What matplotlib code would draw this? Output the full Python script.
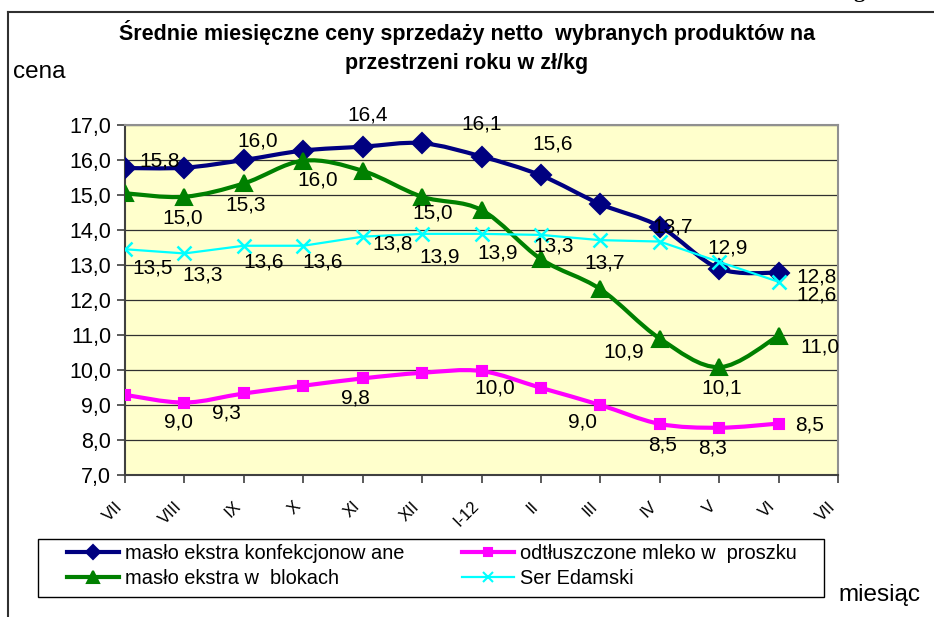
import matplotlib
matplotlib.use("Agg")
import matplotlib.pyplot as plt
import matplotlib.transforms as mtransforms
from matplotlib.path import Path
from matplotlib.patches import PathPatch, Rectangle
from matplotlib.lines import Line2D

plt.rcParams['font.family'] = ['Liberation Sans', 'DejaVu Sans']

# Dane
months = ["VII", "VIII", "IX", "X", "XI", "XII", "I-12", "II", "III", "IV", "V", "VI", "VII"]
maslo_konf = [15.77, 15.78, 16.0, 16.27, 16.38, 16.48, 16.1, 15.56, 14.74, 14.1, 12.9, 12.78]
maslo_blok = [15.05, 14.95, 15.33, 15.98, 15.69, 14.95, 14.57, 13.17, 12.31, 10.9, 10.08, 10.98]
mleko = [9.29, 9.07, 9.33, 9.55, 9.76, 9.92, 9.97, 9.49, 9.0, 8.46, 8.35, 8.47]
ser = [13.45, 13.33, 13.55, 13.55, 13.81, 13.89, 13.89, 13.86, 13.71, 13.67, 13.09, 12.52]

names = ["masło ekstra konfekcjonow ane", "masło ekstra w  blokach",
         "odtłuszczone mleko w  proszku", "Ser Edamski"]

# etykiety danych: indeks punktu -> tekst
labels_konf = {1: "15,8", 2: "16,0", 4: "16,4", 6: "16,1", 7: "15,6", 10: "12,9", 11: "12,8"}
labels_blok = {1: "15,0", 2: "15,3", 3: "16,0", 5: "15,0", 7: "13,3", 9: "10,9", 10: "10,1", 11: "11,0"}
labels_mleko = {1: "9,0", 2: "9,3", 4: "9,8", 6: "10,0", 8: "9,0", 9: "8,5", 10: "8,3", 11: "8,5"}
labels_ser = {0: "13,5", 1: "13,3", 2: "13,6", 3: "13,6", 4: "13,8", 5: "13,9", 6: "13,9",
              8: "13,7", 9: "13,7", 11: "12,6"}

# przesunięcia etykiet w pikselach
off_konf = {1: (-25, 7), 2: (14, 19), 4: (5, 32), 6: (0, 33), 7: (12, 31), 10: (8, 21), 11: (38, -4)}
off_blok = {1: (-2, -21), 2: (2, -22), 3: (14, -19), 5: (11, -16), 7: (13, 13), 9: (-36, -14),
            10: (3, -21), 11: (41, -11)}
off_mleko = {1: (-6, -19), 2: (-17, -20), 4: (-7, -20), 6: (13, -17), 8: (-18, -17), 9: (3, -21),
             10: (-7, -20), 11: (31, -1)}
off_ser = {0: (28, -19), 1: (18, -22), 2: (20, -16), 3: (19, -16), 4: (30, -7), 5: (18, -23),
           6: (16, -19), 8: (4, -23), 9: (13, 15), 11: (38, -13)}

W, H = 934, 617
fig = plt.figure(figsize=(W / 100, H / 100), dpi=100)
ax = fig.add_axes([125 / W, 1 - 475 / H, (838 - 125) / W, (475 - 125) / H])
ax.set_facecolor("#FFFFCC")


def smooth_line(ax, xs, ys, color, lw):
    # krzywe Beziera jak wygładzona linia w Excelu
    verts = [(xs[0], ys[0])]
    codes = [Path.MOVETO]
    n = len(xs)
    for i in range(n - 1):
        x0, y0 = xs[max(i - 1, 0)], ys[max(i - 1, 0)]
        x1, y1 = xs[i], ys[i]
        x2, y2 = xs[i + 1], ys[i + 1]
        x3, y3 = xs[min(i + 2, n - 1)], ys[min(i + 2, n - 1)]
        c1 = (x1 + (x2 - x0) / 6, y1 + (y2 - y0) / 6)
        c2 = (x2 - (x3 - x1) / 6, y2 - (y3 - y1) / 6)
        verts += [c1, c2, (x2, y2)]
        codes += [Path.CURVE4] * 3
    ax.add_patch(PathPatch(Path(verts, codes), fill=False, edgecolor=color, lw=lw,
                           capstyle="round", joinstyle="round", zorder=3))


xs = list(range(len(maslo_konf)))
series = [
    (maslo_konf, "#000080", "D", 10, 3.0, True, labels_konf, off_konf),
    (maslo_blok, "#008000", "^", 11, 3.0, True, labels_blok, off_blok),
    (mleko, "#FF00FF", "s", 7, 3.0, True, labels_mleko, off_mleko),
    (ser, "#00FFFF", "x", 10, 1.6, False, labels_ser, off_ser),
]

handles = []
for (vals, col, mk, ms, lw, smooth, labs, offs), name in zip(series, names):
    if smooth:
        smooth_line(ax, xs, vals, col, lw)
        ax.plot(xs, vals, ls="none", marker=mk, ms=ms, color=col, mew=1.5, zorder=4)
    else:
        ax.plot(xs, vals, color=col, lw=lw, marker=mk, ms=ms, mew=1.8, zorder=4)
    for i, txt in labs.items():
        ax.annotate(txt, (xs[i], vals[i]), xytext=offs[i], textcoords="offset pixels",
                    ha="center", va="center", fontsize=15, color="black", zorder=6,
                    annotation_clip=False)
    handles.append(Line2D([], [], color=col, lw=lw, marker=mk, ms=ms * 0.75, mew=1.5, label=name))

ax.set_xlim(0, 12)
ax.set_ylim(7, 17)
ax.set_yticks(range(7, 18))
ax.set_yticklabels([f"{v},0" for v in range(7, 18)], fontsize=15.5)
ax.set_xticks(range(13))
ax.set_xticklabels(months, fontsize=12, rotation=45, ha="right")
shift = mtransforms.ScaledTranslation(-8 / 100, 0, fig.dpi_scale_trans)
for lab in ax.get_xticklabels():
    lab.set_transform(lab.get_transform() + shift)
ax.tick_params(axis="both", direction="out", length=6, width=1.2, color="#404040")
ax.tick_params(axis="x", pad=11)
ax.tick_params(axis="y", pad=4)
ax.grid(axis="y", color="#303030", lw=0.9)
ax.set_axisbelow(True)
for s in ["top", "right"]:
    ax.spines[s].set_color("#909090")
    ax.spines[s].set_linewidth(1.5)
for s in ["left", "bottom"]:
    ax.spines[s].set_color("#404040")
    ax.spines[s].set_linewidth(1.5)

# legenda z osobną ramką
fig.add_artist(Rectangle((38 / W, 1 - 597 / H), (824 - 38) / W, (597 - 539) / H,
                         transform=fig.transFigure, fill=False, edgecolor="black", lw=1.0))
leg = fig.legend(handles=handles, ncol=2, loc="upper left",
                 bbox_to_anchor=(62 / W, 1 - 539 / H),
                 fontsize=14.4, frameon=False, handlelength=2.6, handletextpad=0.3,
                 labelspacing=0.3, borderaxespad=0, borderpad=0.25, columnspacing=2.9)

# tytuł i opisy osi
fig.text(0.5, 1 - 47 / H, "Średnie miesięczne ceny sprzedaży netto  wybranych produktów na\n"
         "przestrzeni roku w zł/kg", ha="center", va="center", fontsize=15.5,
         fontweight="bold", linespacing=1.55)
fig.text(13 / W, 1 - 72 / H, "cena", ha="left", va="center", fontsize=17.5)
fig.text(838 / W, 1 - 595 / H, "miesiąc", ha="left", va="center", fontsize=17.5)

# ramka strony
fig.add_artist(Line2D([8 / W, 1], [1 - 12 / H, 1 - 12 / H], color="#303030", lw=1.5))
fig.add_artist(Line2D([8 / W, 8 / W], [0, 1 - 12 / H], color="#303030", lw=1.5))
fig.text(853 / W, 1 + 3 / H, "g", ha="left", va="baseline", fontsize=16,
         fontweight="bold", family="Liberation Serif")

fig.savefig("out.png", dpi=100)
